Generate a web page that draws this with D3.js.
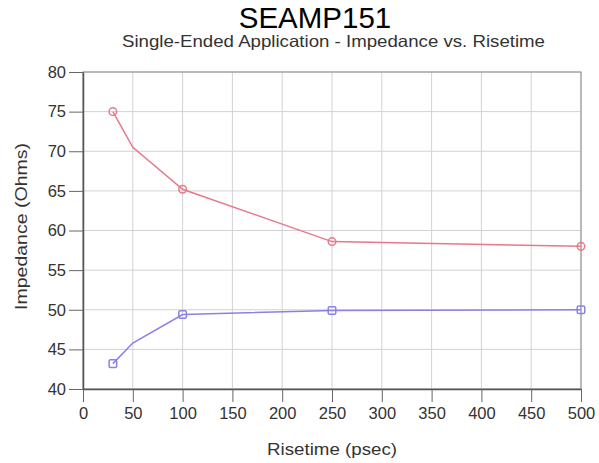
<!DOCTYPE html>
<html>
<head>
<meta charset="utf-8">
<script src="https://cdn.jsdelivr.net/npm/d3@7"></script>
<style>
  body { margin: 0; background: #fff; }
  svg { font-family: "Liberation Sans", Arial, sans-serif; }
</style>
</head>
<body>
<div id="chart"></div>
<script>
// risetime (psec) and impedance (ohms)
const risetime = [30, 50, 100, 250, 500];
const redSeries = [75, 70.5, 65.2, 58.6, 58];
const blueSeries = [43.2, 45.8, 49.4, 49.9, 50];
// points that carry a marker (index into the arrays above)
const markerIdx = [0, 2, 3, 4];
const xTicks = [0, 50, 100, 150, 200, 250, 300, 350, 400, 450, 500];
const yTicks = [40, 45, 50, 55, 60, 65, 70, 75, 80];

const width = 599, height = 463;
const margin = { left: 83, right: 18, top: 72, bottom: 74 };

const svg = d3.select("#chart").append("svg")
    .attr("width", width)
    .attr("height", height);

const x = d3.scaleLinear().domain([0, 500]).range([margin.left, width - margin.right]);
const y = d3.scaleLinear().domain([40, 80]).range([height - margin.bottom, margin.top]);

// grid
svg.append("g").selectAll("line")
    .data(xTicks)
    .join("line")
    .attr("x1", d => x(d)).attr("x2", d => x(d))
    .attr("y1", y(80)).attr("y2", y(40))
    .attr("stroke", "#d2d2d2").attr("stroke-width", 1);

svg.append("g").selectAll("line")
    .data(yTicks)
    .join("line")
    .attr("x1", x(0)).attr("x2", x(500))
    .attr("y1", d => y(d)).attr("y2", d => y(d))
    .attr("stroke", "#d2d2d2").attr("stroke-width", 1);

// frame
svg.append("rect")
    .attr("x", x(0)).attr("y", y(80))
    .attr("width", x(500) - x(0)).attr("height", y(40) - y(80))
    .attr("fill", "none").attr("stroke", "#888").attr("stroke-width", 1);

// axes
const xAxis = svg.append("g")
    .attr("transform", `translate(0,${y(40)})`)
    .call(d3.axisBottom(x).tickValues(xTicks).tickSize(13).tickPadding(5).tickSizeOuter(0));
const yAxis = svg.append("g")
    .attr("transform", `translate(${x(0)},0)`)
    .call(d3.axisLeft(y).tickValues(yTicks).tickSize(14).tickPadding(3).tickSizeOuter(0));

[xAxis, yAxis].forEach(a => {
    a.select(".domain").attr("stroke", "#555").attr("stroke-width", 1.5);
    a.selectAll(".tick line").attr("stroke", "#666");
    a.selectAll(".tick text")
        .attr("fill", "#333")
        .style("font-size", "16.5px")
        .style("font-family", "Liberation Sans, Arial, sans-serif");
});

// series
const series = [
    { values: redSeries, color: "#e8788a", marker: "circle" },
    { values: blueSeries, color: "#8a80e8", marker: "square" }
];

const line = d3.line()
    .x((d, i) => x(risetime[i]))
    .y(d => y(d));

series.forEach(s => {
    svg.append("path")
        .datum(s.values)
        .attr("d", line)
        .attr("fill", "none")
        .attr("stroke", s.color)
        .attr("stroke-width", 1.5);

    const pts = markerIdx.map(i => ({ x: risetime[i], v: s.values[i] }));
    if (s.marker === "circle") {
        svg.append("g").selectAll("circle")
            .data(pts)
            .join("circle")
            .attr("cx", d => x(d.x)).attr("cy", d => y(d.v))
            .attr("r", 3.8)
            .attr("fill", "none")
            .attr("stroke", s.color).attr("stroke-width", 1.5);
    } else {
        svg.append("g").selectAll("rect")
            .data(pts)
            .join("rect")
            .attr("x", d => x(d.x) - 3.8).attr("y", d => y(d.v) - 3.8)
            .attr("width", 7.6).attr("height", 7.6)
            .attr("rx", 1.5)
            .attr("fill", "none")
            .attr("stroke", s.color).attr("stroke-width", 1.5);
    }
});

// titles
svg.append("text")
    .attr("x", 315).attr("y", 28)
    .attr("text-anchor", "middle")
    .style("font-size", "29.5px")
    .attr("fill", "#000")
    .text("SEAMP151");

svg.append("text")
    .attr("x", 333.5).attr("y", 47)
    .attr("text-anchor", "middle")
    .attr("textLength", 423).attr("lengthAdjust", "spacingAndGlyphs")
    .style("font-size", "16.5px")
    .attr("fill", "#333")
    .text("Single-Ended Application - Impedance vs. Risetime");

svg.append("text")
    .attr("x", 332).attr("y", 455)
    .attr("text-anchor", "middle")
    .attr("textLength", 130).attr("lengthAdjust", "spacingAndGlyphs")
    .style("font-size", "16.5px")
    .attr("fill", "#333")
    .text("Risetime (psec)");

svg.append("text")
    .attr("transform", "translate(27,226.5) rotate(-90)")
    .attr("text-anchor", "middle")
    .attr("textLength", 167).attr("lengthAdjust", "spacingAndGlyphs")
    .style("font-size", "17px")
    .attr("fill", "#333")
    .text("Impedance (Ohms)");
</script>
</body>
</html>
